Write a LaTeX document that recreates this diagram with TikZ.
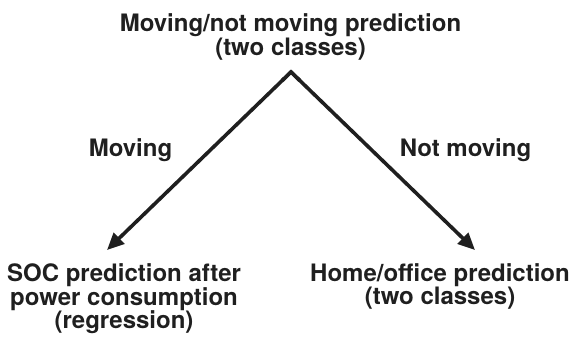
\documentclass[tikz,border=0pt]{standalone}
\usepackage{fontspec}
\newfontfamily\lblfont{TeX Gyre Heros}
\usetikzlibrary{arrows.meta,calc}
\begin{document}
\begin{tikzpicture}[x=1pt,y=-1pt,
  lbl/.style={font=\lblfont\bfseries\fontsize{24}{23.5}\selectfont, align=center, text=black!88, inner sep=0pt, anchor=base},
  branch/.style={line width=3.6pt, draw=black!88, -{Triangle[length=17pt,width=15pt]}, line join=miter}]
  \useasboundingbox (0,0) rectangle (577,338);
  % multi-line labels are placed by the baseline of their last line
  \node[lbl] (root) at (290.5,55) {Moving/not moving prediction\\(two classes)};
  \coordinate (apex) at (291,72);
  \coordinate (lefttip) at (107,250);
  \coordinate (righttip) at (475,250);
  % the two branches leave from a common pointed apex
  \draw[line width=3.6pt, draw=black!88, line join=miter] ($(apex)!12pt!(lefttip)$) -- (apex) -- ($(apex)!12pt!(righttip)$);
  \draw[branch] (apex) -- (lefttip);
  \draw[branch] (apex) -- (righttip);
  \node[lbl] (mv) at (130.5,156) {Moving};
  \node[lbl] (nmv) at (465.5,156) {Not moving};
  \node[lbl] (soc) at (124,328.5) {SOC prediction after\\power consumption\\(regression)};
  \node[lbl] (home) at (440,304.5) {Home/office prediction\\(two classes)};
\end{tikzpicture}
\end{document}
